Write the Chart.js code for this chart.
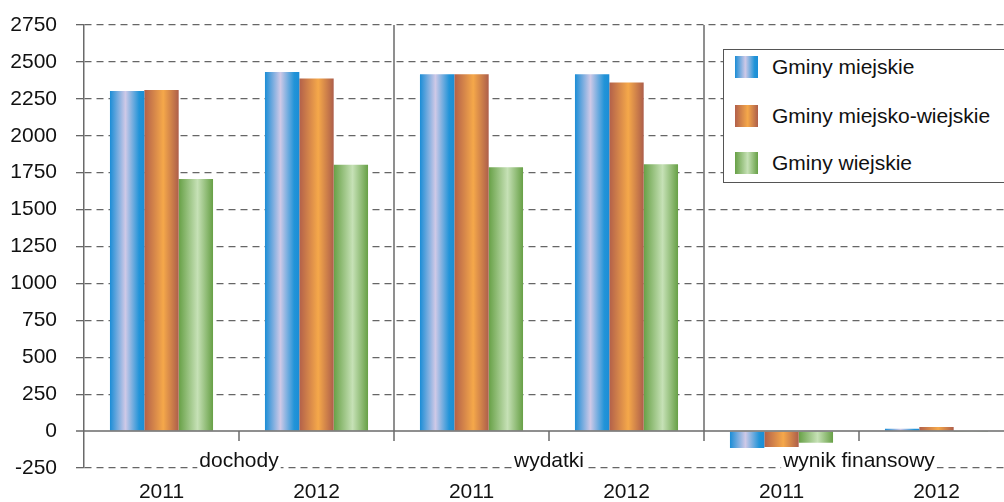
<!DOCTYPE html>
<html>
<head>
<meta charset="utf-8">
<script src="https://cdn.jsdelivr.net/npm/chart.js@4"></script>
<style>
  html, body { margin: 0; padding: 0; background: #fff; overflow: hidden; }
  #wrap { position: relative; width: 1014px; height: 502px; }
  #legend { position: absolute; left: 723px; top: 49px; width: 300px; height: 134px;
    border: 1px solid #555; background: #fff; box-sizing: border-box;
    font-family: 'Liberation Sans', Arial, sans-serif; font-size: 21px; color: #111; }
  #legend .item { position: absolute; left: 0; width: 290px; height: 24px; line-height: 24px; }
  #legend .sw { position: absolute; left: 11px; top: 1px; width: 23px; height: 22px; }
  #legend .tx { position: absolute; left: 48px; top: 0; white-space: nowrap; }
</style>
</head>
<body>
<div id="wrap">
  <canvas id="c"></canvas>
  <div id="legend"></div>
</div>
<script>
  // values
  var CATEGORIES = ['2011', '2012', '2011', '2012', '2011', '2012'];
  var GROUPS = ['dochody', 'wydatki', 'wynik finansowy'];
  var SERIES = ['Gminy miejskie', 'Gminy miejsko-wiejskie', 'Gminy wiejskie'];
  var MIEJSKIE = [2303, 2432, 2417, 2417, -114, 15];
  var MIEJSKO_WIEJSKIE = [2310, 2387, 2417, 2360, -107, 27];
  var WIEJSKIE = [1707, 1804, 1786, 1807, -79, -3];
  var Y_MIN = -250, Y_MAX = 2750, Y_STEP = 250;

  // gradient stops: edge / highlight / edge
  var STOPS = [
    [[0, '#1b8dd6'], [0.45, '#cfc9e7'], [0.85, '#2294d8'], [1, '#1b8dd6']],
    [[0, '#b2604a'], [0.55, '#f5a84a'], [1, '#ad5e4a']],
    [[0, '#67a046'], [0.55, '#c6e1b6'], [1, '#67a046']]
  ];
  var SOLID = ['#1b8dd6', '#e0903f', '#7ab35a'];
  var CAT_PCT = 0.665;
  var FONT = "'Liberation Sans', Arial, sans-serif";

  function barFill(c) {
    var chart = c.chart, xs = chart.scales && chart.scales.x;
    var ds = c.datasetIndex;
    if (!xs || c.dataIndex === undefined) return SOLID[ds];
    var center = xs.getPixelForValue(c.dataIndex);
    var catW = xs.width / CATEGORIES.length;
    var groupW = catW * CAT_PCT, barW = groupW / SERIES.length;
    var left = center - groupW / 2 + ds * barW;
    if (!isFinite(left) || !isFinite(barW) || barW <= 0) return SOLID[ds];
    var g = chart.ctx.createLinearGradient(left, 0, left + barW, 0);
    STOPS[ds].forEach(function (s) { g.addColorStop(s[0], s[1]); });
    return g;
  }

  var decor = {
    id: 'decor',
    beforeDatasetsDraw: function (chart) {
      var ctx = chart.ctx, a = chart.chartArea, x = chart.scales.x, y = chart.scales.y;
      var y0 = y.getPixelForValue(0);
      ctx.save();
      ctx.strokeStyle = '#6a6a6a';
      ctx.lineWidth = 1.5;
      for (var i = 1; i < CATEGORIES.length; i++) {
        var bx = (x.getPixelForValue(i - 1) + x.getPixelForValue(i)) / 2;
        ctx.beginPath();
        ctx.moveTo(bx, i % 2 === 0 ? a.top : y0);
        ctx.lineTo(bx, y0 + 10);
        ctx.stroke();
      }
      ctx.restore();
    },
    afterDatasetsDraw: function (chart) {
      var ctx = chart.ctx, a = chart.chartArea, x = chart.scales.x, y = chart.scales.y;
      var y0 = y.getPixelForValue(0);
      ctx.save();
      ctx.strokeStyle = '#6a6a6a';
      ctx.lineWidth = 1.5;
      ctx.beginPath();
      ctx.moveTo(a.left - 8, y0);   // includes the tick mark left of the axis
      ctx.lineTo(a.right, y0);
      ctx.stroke();
      ctx.font = '21px ' + FONT;
      ctx.textAlign = 'center';
      ctx.textBaseline = 'middle';
      GROUPS.forEach(function (name, gi) {
        var gx = (x.getPixelForValue(gi * 2) + x.getPixelForValue(gi * 2 + 1)) / 2;
        var gy = y0 + 30;
        var w = ctx.measureText(name).width;
        ctx.fillStyle = '#fff';
        ctx.fillRect(gx - w / 2 - 2, gy - 11, w + 4, 22);
        ctx.fillStyle = '#111';
        ctx.fillText(name, gx, gy);
      });
      ctx.restore();
    }
  };

  new Chart(document.getElementById('c'), {
    type: 'bar',
    data: {
      labels: CATEGORIES,
      datasets: [
        { label: SERIES[0], data: MIEJSKIE, backgroundColor: barFill },
        { label: SERIES[1], data: MIEJSKO_WIEJSKIE, backgroundColor: barFill },
        { label: SERIES[2], data: WIEJSKIE, backgroundColor: barFill }
      ]
    },
    options: {
      responsive: true,
      maintainAspectRatio: false,
      animation: false,
      layout: { padding: { top: 25, right: 0, left: 0, bottom: 0 } },
      datasets: {
        bar: { categoryPercentage: CAT_PCT, barPercentage: 1, borderWidth: 0 }
      },
      plugins: { legend: { display: false }, tooltip: { enabled: false }, colors: { enabled: false } },
      scales: {
        x: {
          grid: { display: false, drawTicks: false },
          border: { display: false },
          ticks: { color: '#111', font: { family: FONT, size: 21 }, padding: 12, maxRotation: 0 },
          afterFit: function (s) { s.height = 34; }
        },
        y: {
          min: Y_MIN, max: Y_MAX,
          ticks: { stepSize: Y_STEP, color: '#111', font: { family: FONT, size: 21 }, padding: 19,
            callback: function (v) { return String(v); } },
          grid: { color: function (c) { return c.tick && c.tick.value === 0 ? 'rgba(0,0,0,0)' : '#666'; },
            lineWidth: 1.3, tickLength: 8 },
          border: { display: true, color: '#6a6a6a', width: 1.5, dash: [7, 5] },
          afterFit: function (s) { s.width = 84; s.paddingTop = 12; s.paddingBottom = 12; }
        }
      }
    },
    plugins: [decor]
  });

  // legend box
  var legend = document.getElementById('legend');
  var ROW_Y = [5, 54, 101];
  SERIES.forEach(function (name, i) {
    var item = document.createElement('div');
    item.className = 'item';
    item.style.top = ROW_Y[i] + 'px';
    var sw = document.createElement('div');
    sw.className = 'sw';
    sw.style.background = 'linear-gradient(to right,' + STOPS[i].map(function (s) {
      return s[1] + ' ' + (s[0] * 100) + '%';
    }).join(',') + ')';
    var tx = document.createElement('div');
    tx.className = 'tx';
    tx.textContent = name;
    item.appendChild(sw);
    item.appendChild(tx);
    legend.appendChild(item);
  });
</script>
</body>
</html>
